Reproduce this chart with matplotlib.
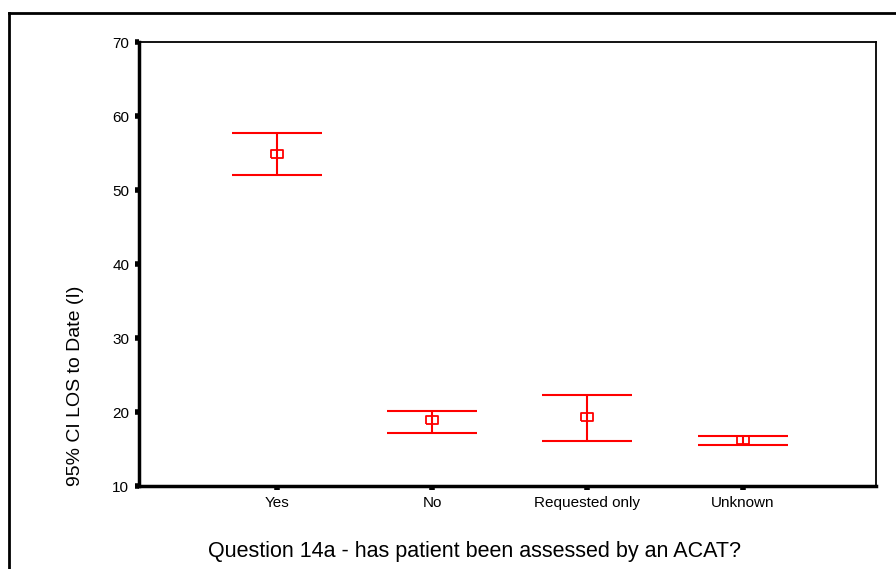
import matplotlib.pyplot as plt
from matplotlib.lines import Line2D

plt.rcParams['font.family'] = ['Liberation Sans', 'DejaVu Sans']

# LOS to date by ACAT assessment status: mean with 95% CI
categories = ['Yes', 'No', 'Requested only', 'Unknown']
means = [54.9, 18.9, 19.3, 16.2]
ci_lower = [52.0, 17.2, 16.1, 15.6]
ci_upper = [57.7, 20.2, 22.3, 16.7]

W, H = 896, 569
fig = plt.figure(figsize=(W / 100, H / 100), dpi=100)
ax = fig.add_axes([139 / W, 1 - 486 / H, (876 - 139) / W, (486 - 42) / H])

red = '#ff0000'
pos = list(range(1, len(categories) + 1))
half = 0.29
ax.vlines(pos, ci_lower, ci_upper, color=red, lw=1.5)
ax.hlines(ci_lower, [p - half for p in pos], [p + half for p in pos], color=red, lw=1.5)
ax.hlines(ci_upper, [p - half for p in pos], [p + half for p in pos], color=red, lw=1.5)
box = [(-1.5, -1), (1.5, -1), (1.5, 1), (-1.5, 1), (-1.5, -1)]
ax.plot(pos, means, ls='none', marker=box, markersize=9, mfc='none', mec=red, mew=1.3)

ax.set_xlim(0.11, 4.86)
ax.set_ylim(10, 70)
ax.set_yticks(range(10, 71, 10))
ax.set_xticks(pos)
ax.set_xticklabels(categories)

for side in ['left', 'bottom']:
    ax.spines[side].set_linewidth(2.5)
for side in ['top', 'right']:
    ax.spines[side].set_linewidth(1.3)
ax.tick_params(axis='both', direction='out', length=3, width=4, labelsize=11, pad=4)

fig.text(75 / W, 1 - 386 / H, '95% CI LOS to Date (I)', rotation=90,
         ha='center', va='center', fontsize=14)
fig.text(474 / W, 1 - 552 / H, 'Question 14a - has patient been assessed by an ACAT?',
         ha='center', va='center', fontsize=15.5)

# outer frame running off the right and bottom edges
fig.add_artist(Line2D([9 / W, 9 / W], [0, 1 - 13 / H], color='black', lw=2))
fig.add_artist(Line2D([9 / W, 1], [1 - 13 / H, 1 - 13 / H], color='black', lw=2))

fig.savefig('out.png', dpi=100)
